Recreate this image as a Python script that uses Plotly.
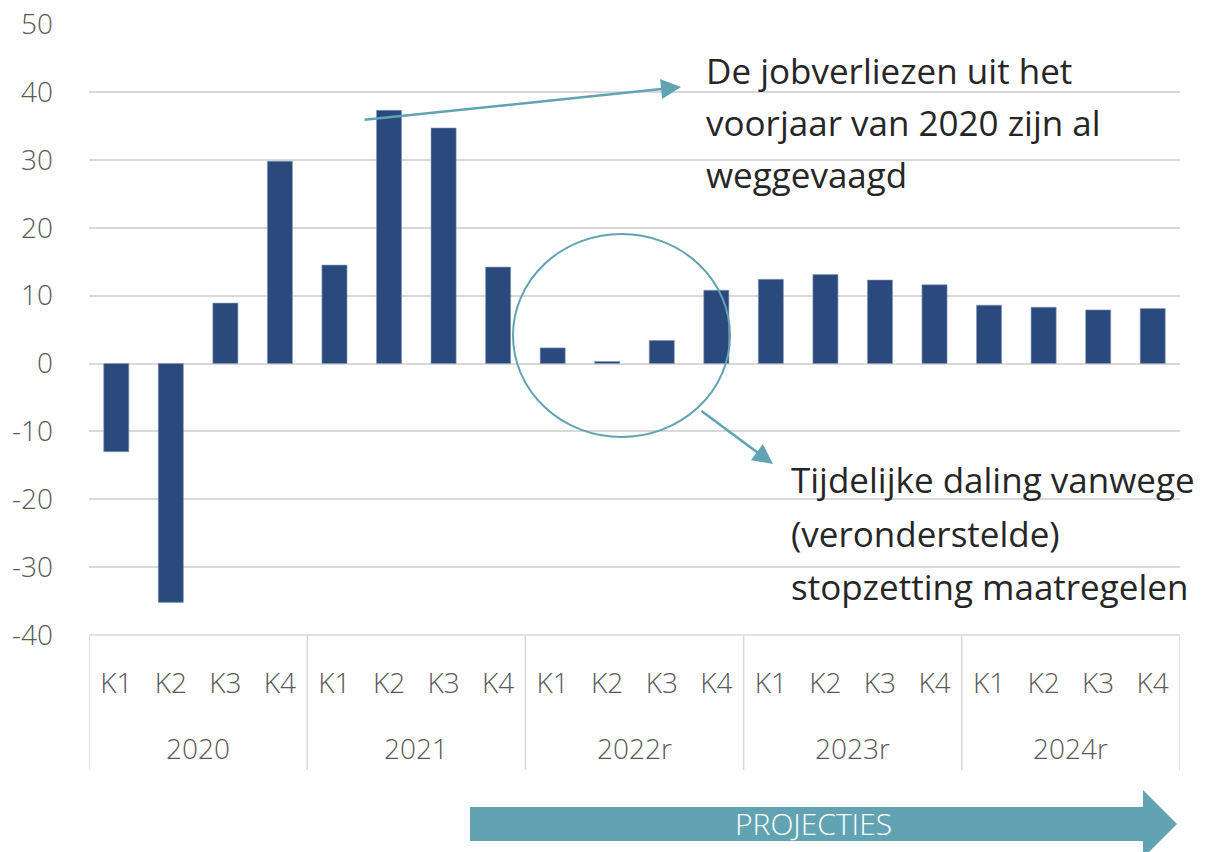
import plotly.graph_objects as go

# ---- data ----
years = ["2020", "2021", "2022r", "2023r", "2024r"]
quarters = ["K1", "K2", "K3", "K4"]
values = [-13.0, -35.2, 8.9, 29.8,
          14.5, 37.3, 34.7, 14.2,
          2.3, 0.3, 3.4, 10.8,
          12.4, 13.1, 12.3, 11.6,
          8.6, 8.3, 7.9, 8.1]
y_ticks = [-40, -30, -20, -10, 0, 10, 20, 30, 40, 50]
note_top = ["De jobverliezen uit het", "voorjaar van 2020 zijn al", "weggevaagd"]
note_bottom = ["Tijdelijke daling vanwege", "(veronderstelde)", "stopzetting maatregelen"]
banner = "PROJECTIES"

# ---- geometry helpers (screen pixel -> paper) ----
W, H = 1210, 852
OFF = 8  # default page body margin
SL, SR, ST, SB = 89, 1180, 24, 635  # plot area on screen
L, T = SL - OFF, ST - OFF
R = W - (SR - OFF)
B = H - (SB - OFF)
PW, PH = SR - SL, SB - ST
def px(x):
    return (x - SL) / PW
def py(y):
    return (SB - y) / PH

BAR = "#2A4A7D"
TEAL = "#62A3B3"
GRID = "#D9D9D9"
TXT = "#595959"
FONT = "Open Sans"

nq = len(quarters)
xs = list(range(len(values)))
tick_text = [quarters[i % nq] for i in xs]

fig = go.Figure(go.Bar(x=xs, y=values, marker=dict(color=BAR, line=dict(color="#8A9BB8", width=0.6)),
                       width=0.46, hoverinfo="y"))

shapes = []
annotations = []
# group dividers and year labels
for g, yr in enumerate(years):
    left = g * nq - 0.5
    shapes.append(dict(type="line", xref="x", yref="paper", x0=left, x1=left, y0=0, y1=py(770),
                       line=dict(color=GRID, width=1.5)))
    annotations.append(dict(x=g * nq + (nq - 1) / 2, y=py(748), xref="x", yref="paper", text=yr,
                            showarrow=False, font=dict(family=FONT, size=28, color=TXT, weight=300),
                            xanchor="center", yanchor="middle"))
last = len(values) - 0.5
shapes.append(dict(type="line", xref="x", yref="paper", x0=last, x1=last, y0=0, y1=py(770),
                   line=dict(color=GRID, width=1.5)))
shapes.append(dict(type="line", xref="paper", yref="paper", x0=0, x1=1, y0=0, y1=0,
                   line=dict(color=GRID, width=1.5)))

# ellipse highlighting 2022
shapes.append(dict(type="circle", xref="paper", yref="paper", x0=px(513), x1=px(730), y0=py(437), y1=py(234),
                   line=dict(color=TEAL, width=2)))

# projecties arrow
path = "M {a},{b} L {c},{b} L {c},{d} L {e},{f} L {c},{g} L {c},{h} L {a},{h} Z".format(
    a=px(470), b=py(807), c=px(1143), d=py(790), e=px(1177), f=py(824), g=py(858), h=py(841))
shapes.append(dict(type="path", xref="paper", yref="paper", path=path, fillcolor=TEAL,
                   line=dict(width=0)))
annotations.append(dict(x=px(813), y=py(824), xref="paper", yref="paper", text=banner, showarrow=False,
                        font=dict(family=FONT, size=30, color="white", weight=300),
                        xanchor="center", yanchor="middle"))

# note texts
for i, line in enumerate(note_top):
    annotations.append(dict(x=px(704), y=py(71 + 52 * i), xref="paper", yref="paper", text=line,
                            showarrow=False, xanchor="left", yanchor="middle",
                            font=dict(family=FONT, size=35, color="#262626")))
for i, line in enumerate(note_bottom):
    annotations.append(dict(x=px(789), y=py(480 + 53 * i), xref="paper", yref="paper", text=line,
                            showarrow=False, xanchor="left", yanchor="middle",
                            font=dict(family=FONT, size=35, color="#262626")))

# arrows
annotations.append(dict(x=px(681), y=py(87), xref="paper", yref="paper", ax=-318, ay=33, text="",
                        showarrow=True, arrowhead=2, arrowsize=1.6, arrowwidth=2.5, arrowcolor=TEAL,
                        standoff=0))
annotations.append(dict(x=px(773), y=py(464), xref="paper", yref="paper", ax=-73, ay=-54, text="",
                        showarrow=True, arrowhead=2, arrowsize=1.6, arrowwidth=2.5, arrowcolor=TEAL,
                        standoff=0))

fig.update_layout(
    width=W, height=H, margin=dict(l=L, r=R, t=T, b=B, autoexpand=False),
    plot_bgcolor="white", paper_bgcolor="white", showlegend=False,
    font=dict(family=FONT, color=TXT),
    shapes=shapes, annotations=annotations,
    xaxis=dict(range=[-0.5, len(values) - 0.5], tickmode="array", tickvals=xs, ticktext=tick_text,
               showgrid=False, zeroline=False, showline=False, ticks="", automargin=False,
               tickfont=dict(family=FONT, size=28, color=TXT, weight=300), ticklabelstandoff=29),
    yaxis=dict(range=[-40, 50.02], tickmode="array", tickvals=y_ticks, ticktext=[str(v) for v in y_ticks],
               showgrid=True, gridcolor=GRID, automargin=False, ticklabeloverflow="allow",
               gridwidth=1.5, zeroline=True, zerolinecolor=GRID, zerolinewidth=1.5, showline=False,
               ticks="", tickfont=dict(family=FONT, size=28, color=TXT, weight=300), ticklabelstandoff=35),
)

fig.write_html("out.html")
